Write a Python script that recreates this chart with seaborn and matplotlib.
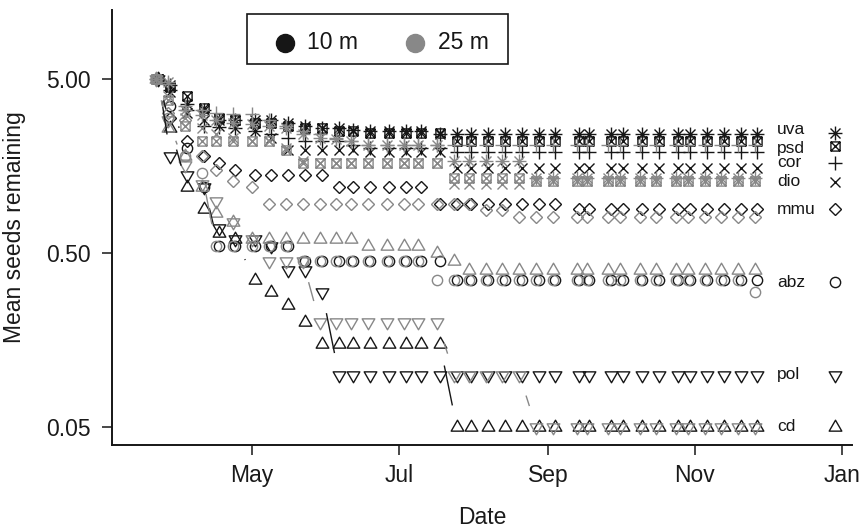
import numpy as np
import pandas as pd
import matplotlib
matplotlib.use("Agg")
import matplotlib.pyplot as plt
import matplotlib.transforms as mtransforms
import matplotlib.dates as mdates
from matplotlib.ticker import NullLocator
from matplotlib.path import Path
from matplotlib.patches import Rectangle
import seaborn as sns

# ---------------- data ----------------
dates_10m = ["2005-03-23", "2005-03-28", "2005-04-04", "2005-04-11", "2005-04-17", "2005-04-24",
             "2005-05-02", "2005-05-09", "2005-05-16", "2005-05-23", "2005-05-30", "2005-06-06",
             "2005-06-12", "2005-06-19", "2005-06-27", "2005-07-04", "2005-07-10", "2005-07-18",
             "2005-07-25", "2005-07-31", "2005-08-07", "2005-08-14", "2005-08-21", "2005-08-28",
             "2005-09-04", "2005-09-14", "2005-09-18", "2005-09-27", "2005-10-02", "2005-10-10",
             "2005-10-17", "2005-10-25", "2005-10-30", "2005-11-06", "2005-11-13", "2005-11-20",
             "2005-11-27"]
dates_25m = ["2005-03-22", "2005-03-27", "2005-04-03", "2005-04-10", "2005-04-16", "2005-04-23",
             "2005-05-01", "2005-05-08", "2005-05-15", "2005-05-22", "2005-05-29", "2005-06-05",
             "2005-06-11", "2005-06-18", "2005-06-26", "2005-07-03", "2005-07-09", "2005-07-17",
             "2005-07-24", "2005-07-30", "2005-08-06", "2005-08-13", "2005-08-20", "2005-08-27",
             "2005-09-03", "2005-09-13", "2005-09-17", "2005-09-26", "2005-10-01", "2005-10-09",
             "2005-10-16", "2005-10-24", "2005-10-29", "2005-11-05", "2005-11-12", "2005-11-19",
             "2005-11-26"]

species = ["uva", "psd", "cor", "dio", "mmu", "abz", "pol", "cd"]
distances = ["10 m", "25 m"]

uva_10m = [5.00, 4.60, 3.60, 3.30, 2.90, 2.90, 2.90, 2.90, 2.80, 2.70, 2.60, 2.60, 2.55,
           2.50, 2.50, 2.50, 2.50, 2.40, 2.40, 2.40, 2.40, 2.40, 2.40, 2.40, 2.40, 2.40,
           2.40, 2.40, 2.40, 2.40, 2.40, 2.40, 2.40, 2.40, 2.40, 2.40, 2.40]
psd_10m = [5.00, 4.50, 4.00, 3.40, 3.00, 2.90, 2.80, 2.80, 2.70, 2.60, 2.60, 2.50, 2.50,
           2.45, 2.45, 2.45, 2.45, 2.45, 2.20, 2.20, 2.20, 2.20, 2.20, 2.20, 2.20, 2.20,
           2.20, 2.20, 2.20, 2.20, 2.20, 2.20, 2.20, 2.20, 2.20, 2.20, 2.20]
cor_10m = [5.00, 4.30, 3.30, 2.70, 2.65, 2.60, 2.50, 2.40, 2.30, 2.20, 2.20, 2.20, 2.10,
           2.00, 2.00, 2.00, 2.00, 2.00, 1.90, 1.90, 1.90, 1.90, 1.90, 1.90, 1.90, 1.90,
           1.90, 1.90, 1.90, 1.90, 1.90, 1.90, 1.90, 1.90, 1.90, 1.90, 1.90]
dio_10m = [5.00, 4.20, 3.20, 2.90, 2.70, 2.60, 2.50, 2.30, 1.95, 1.95, 1.95, 1.95, 1.95,
           1.90, 1.90, 1.90, 1.90, 1.90, 1.55, 1.55, 1.55, 1.55, 1.55, 1.55, 1.55, 1.55,
           1.55, 1.55, 1.55, 1.55, 1.55, 1.55, 1.55, 1.55, 1.55, 1.55, 1.55]
mmu_10m = [5.00, 3.00, 2.20, 1.80, 1.65, 1.50, 1.40, 1.40, 1.40, 1.40, 1.40, 1.20, 1.20,
           1.20, 1.20, 1.20, 1.20, 0.95, 0.95, 0.95, 0.95, 0.95, 0.95, 0.95, 0.95, 0.90,
           0.90, 0.90, 0.90, 0.90, 0.90, 0.90, 0.90, 0.90, 0.90, 0.90, 0.90]
abz_10m = [5.00, 3.50, 2.00, 1.20, 0.55, 0.55, 0.55, 0.55, 0.55, 0.45, 0.45, 0.45, 0.45,
           0.45, 0.45, 0.45, 0.45, 0.45, 0.35, 0.35, 0.35, 0.35, 0.35, 0.35, 0.35, 0.35,
           0.35, 0.35, 0.35, 0.35, 0.35, 0.35, 0.35, 0.35, 0.35, 0.35, 0.35]
pol_10m = [5.00, 1.80, 1.40, 1.20, 0.70, 0.60, 0.60, 0.55, 0.40, 0.40, 0.30, 0.10, 0.10,
           0.10, 0.10, 0.10, 0.10, 0.10, 0.10, 0.10, 0.10, 0.10, 0.10, 0.10, 0.10, 0.10,
           0.10, 0.10, 0.10, 0.10, 0.10, 0.10, 0.10, 0.10, 0.10, 0.10, 0.10]
cd_10m = [5.00, 2.60, 1.20, 0.90, 0.65, 0.60, 0.35, 0.30, 0.25, 0.20, 0.15, 0.15, 0.15,
          0.15, 0.15, 0.15, 0.15, 0.15, 0.05, 0.05, 0.05, 0.05, 0.05, 0.05, 0.05, 0.05,
          0.05, 0.05, 0.05, 0.05, 0.05, 0.05, 0.05, 0.05, 0.05, 0.05, 0.05]

uva_25m = [5.00, 4.80, 3.30, 3.10, 2.90, 2.80, 2.75, 2.70, 2.60, 2.40, 2.30, 2.25, 2.20,
           2.10, 2.10, 2.10, 2.10, 2.10, 1.70, 1.70, 1.70, 1.70, 1.70, 1.35, 1.35, 1.35,
           1.35, 1.35, 1.35, 1.35, 1.35, 1.35, 1.35, 1.35, 1.35, 1.35, 1.35]
psd_25m = [5.00, 3.80, 2.70, 2.20, 2.20, 2.20, 2.20, 2.20, 1.95, 1.65, 1.65, 1.65, 1.65,
           1.65, 1.65, 1.65, 1.65, 1.65, 1.35, 1.35, 1.35, 1.35, 1.35, 1.30, 1.30, 1.30,
           1.30, 1.30, 1.30, 1.30, 1.30, 1.30, 1.30, 1.30, 1.30, 1.30, 1.30]
cor_25m = [5.00, 4.70, 3.50, 3.30, 3.20, 3.15, 3.15, 2.90, 2.70, 2.50, 2.40, 2.30, 2.20,
           2.10, 2.10, 2.10, 2.10, 2.10, 2.10, 2.10, 2.10, 2.10, 2.10, 2.10, 2.10, 2.10,
           2.10, 2.10, 2.10, 2.10, 2.10, 2.10, 2.10, 2.10, 2.10, 2.10, 2.10]
dio_25m = [5.00, 4.00, 3.00, 2.60, 2.40, 2.30, 2.20, 2.20, 2.00, 1.70, 1.65, 1.65, 1.65,
           1.65, 1.65, 1.65, 1.65, 1.65, 1.25, 1.25, 1.25, 1.25, 1.25, 1.30, 1.30, 1.30,
           1.30, 1.30, 1.30, 1.30, 1.30, 1.30, 1.30, 1.30, 1.30, 1.30, 1.30]
mmu_25m = [5.00, 3.20, 2.90, 1.80, 1.50, 1.30, 1.20, 0.95, 0.95, 0.95, 0.95, 0.95, 0.95,
           0.95, 0.95, 0.95, 0.95, 0.95, 0.95, 0.95, 0.88, 0.88, 0.80, 0.80, 0.80, 0.80,
           0.80, 0.80, 0.80, 0.80, 0.80, 0.80, 0.80, 0.80, 0.80, 0.80, 0.80]
abz_25m = [5.00, 3.00, 1.80, 1.45, 0.55, 0.55, 0.55, 0.55, 0.55, 0.45, 0.45, 0.45, 0.45,
           0.45, 0.45, 0.45, 0.45, 0.35, 0.35, 0.35, 0.35, 0.35, 0.35, 0.35, 0.35, 0.35,
           0.35, 0.35, 0.35, 0.35, 0.35, 0.35, 0.35, 0.35, 0.35, 0.35, 0.30]
pol_25m = [5.00, 2.90, 1.60, 1.25, 1.00, 0.75, 0.60, 0.45, 0.45, 0.45, 0.20, 0.20, 0.20,
           0.20, 0.20, 0.20, 0.20, 0.20, 0.10, 0.10, 0.10, 0.10, 0.10, 0.05, 0.05, 0.05,
           0.05, 0.05, 0.05, 0.05, 0.05, 0.05, 0.05, 0.05, 0.05, 0.05, 0.05]
cd_25m = [5.00, 2.60, 1.80, 1.20, 0.85, 0.75, 0.60, 0.60, 0.60, 0.60, 0.60, 0.60, 0.60,
          0.55, 0.55, 0.55, 0.55, 0.50, 0.45, 0.40, 0.40, 0.40, 0.40, 0.40, 0.40, 0.40,
          0.40, 0.40, 0.40, 0.40, 0.40, 0.40, 0.40, 0.40, 0.40, 0.40, 0.40]

label_levels = [2.56, 2.0, 1.65, 1.28, 0.89, 0.34, 0.10, 0.05]
x_tick_dates = ["2005-05-01", "2005-07-01", "2005-09-01", "2005-11-01", "2006-01-01"]
x_tick_labels = ["May", "Jul", "Sep", "Nov", "Jan"]
y_ticks = [0.05, 0.5, 5.0]
y_tick_labels = ["0.05", "0.50", "5.00"]
legend_labels = ["10 m", "25 m"]

series = {
    ("uva", "10 m"): uva_10m, ("psd", "10 m"): psd_10m, ("cor", "10 m"): cor_10m,
    ("dio", "10 m"): dio_10m, ("mmu", "10 m"): mmu_10m, ("abz", "10 m"): abz_10m,
    ("pol", "10 m"): pol_10m, ("cd", "10 m"): cd_10m,
    ("uva", "25 m"): uva_25m, ("psd", "25 m"): psd_25m, ("cor", "25 m"): cor_25m,
    ("dio", "25 m"): dio_25m, ("mmu", "25 m"): mmu_25m, ("abz", "25 m"): abz_25m,
    ("pol", "25 m"): pol_25m, ("cd", "25 m"): cd_25m,
}
date_lists = {"10 m": dates_10m, "25 m": dates_25m}

rows = []
for (sp, dist), vals in series.items():
    for d, v in zip(date_lists[dist], vals):
        rows.append({"species": sp, "distance": dist, "date": d, "seeds": v})
df = pd.DataFrame(rows)
df["date"] = pd.to_datetime(df["date"])

# ---------------- styling ----------------
sns.set_theme(style="ticks")
plt.rcParams["font.family"] = ["Liberation Sans", "DejaVu Sans"]

BLACK = "#161616"
GRAY = "#888888"
colors = {"10 m": BLACK, "25 m": GRAY}

M, L, C = Path.MOVETO, Path.LINETO, Path.CLOSEPOLY
box_x = Path([(-1, -1), (1, -1), (1, 1), (-1, 1), (-1, -1), (-1, -1), (1, 1), (-1, 1), (1, -1)],
             [M, L, L, L, C, M, L, M, L])
star8 = Path([(-1, 0), (1, 0), (0, -1), (0, 1), (-0.72, -0.72), (0.72, 0.72), (-0.72, 0.72), (0.72, -0.72)],
             [M, L, M, L, M, L, M, L])
tri_up = Path([(0, 1), (-0.866, -0.5), (0.866, -0.5), (0, 1)], [M, L, L, C])
tri_dn = Path([(0, -1), (-0.866, 0.5), (0.866, 0.5), (0, -1)], [M, L, L, C])

marker_map = {"uva": star8, "psd": box_x, "cor": "+", "dio": "x", "mmu": "D",
              "abz": "o", "pol": tri_dn, "cd": tri_up}
size_map = {"uva": 10, "psd": 6.6, "cor": 10, "dio": 7.4, "mmu": 6.6,
            "abz": 7.4, "pol": 10.5, "cd": 10.5}
MEW = 1.0

fig = plt.figure(figsize=(8.62, 5.31), dpi=100)
ax = fig.add_axes([112 / 862, 86 / 531, 740 / 862, 435 / 531])

for dist in distances:
    col = colors[dist]
    for sp in species:
        sub = df[(df["species"] == sp) & (df["distance"] == dist)]
        sns.lineplot(data=sub, x="date", y="seeds", ax=ax, estimator=None, sort=False,
                     legend=False, linestyle="none", marker=marker_map[sp],
                     markersize=size_map[sp], markerfacecolor="none",
                     markeredgecolor=col, markeredgewidth=MEW, color=col)

ax.set_yscale("log")
ax.set_ylim(0.0394, 12.46)
ax.set_xlim(pd.Timestamp("2005-03-03 17:00"), pd.Timestamp("2006-01-05 07:00"))
ax.set_xlabel("")
ax.set_ylabel("")

ax.set_xticks(pd.to_datetime(x_tick_dates))
ax.set_xticklabels(x_tick_labels)
ax.set_yticks(y_ticks)
ax.set_yticklabels(y_tick_labels)
ax.yaxis.set_minor_locator(NullLocator())
ax.xaxis.set_minor_locator(NullLocator())
ax.tick_params(axis="both", length=7, width=1.1, color=BLACK, labelsize=16.5,
               labelcolor="#1a1a1a", direction="out")
ax.tick_params(axis="x", pad=7)
ax.tick_params(axis="y", pad=8)
for s in ["top", "right"]:
    ax.spines[s].set_visible(False)
for s in ["left", "bottom"]:
    ax.spines[s].set_linewidth(1.4)
    ax.spines[s].set_color(BLACK)

# R type="b" style connecting lines: segments with gaps around each point
T = ax.transData
inv = T.inverted()
GAP = 22.0
for (sp, dist), vals in series.items():
    xs = mdates.date2num(pd.to_datetime(date_lists[dist]))
    pts = T.transform(np.column_stack([xs, vals]))
    for a, b in zip(pts[:-1], pts[1:]):
        d = b - a
        length = np.hypot(d[0], d[1])
        if length > 2 * GAP:
            u = d / length
            seg = inv.transform(np.array([a + u * GAP, b - u * GAP]))
            ax.plot(seg[:, 0], seg[:, 1], color=colors[dist], lw=1.0,
                    solid_capstyle="butt")

# species key on the right
trans = mtransforms.blended_transform_factory(ax.transAxes, ax.transData)
for sp, lvl in zip(species, label_levels):
    ax.text(0.8986, lvl, sp, transform=trans, ha="left", va="center",
            fontsize=12.5, color=BLACK)
for sp, lvl in zip(species, [2.45, 2.06, 1.65, 1.28, 0.89, 0.34, 0.10, 0.05]):
    ax.plot([0.977], [lvl], transform=trans, marker=marker_map[sp], ms=size_map[sp],
            mfc="none", mec=BLACK, mew=MEW, ls="none", clip_on=False)

# distance legend box
ax.add_patch(Rectangle((0.1824, 0.8759), 0.5351 - 0.1824, 0.9908 - 0.8759,
                       transform=ax.transAxes, fill=False, edgecolor=BLACK,
                       lw=1.2, clip_on=False))
for lab, dist, xm, xt in zip(legend_labels, distances, [0.2338, 0.4095], [0.2635, 0.4405]):
    ax.plot([xm], [0.924], transform=ax.transAxes, marker="o", ms=13,
            color=colors[dist], mec=colors[dist], ls="none", clip_on=False)
    ax.text(xt, 0.926, lab, transform=ax.transAxes, ha="left", va="center",
            fontsize=16.5, color=BLACK)

fig.text(482 / 862, 1 - 517 / 531, "Date", ha="center", va="center",
         fontsize=16.5, color="#1a1a1a")
fig.text(15 / 862, 1 - 227 / 531, "Mean seeds remaining", rotation=90,
         ha="center", va="center", fontsize=16.5, color="#1a1a1a")

fig.savefig("out.png", dpi=100)
